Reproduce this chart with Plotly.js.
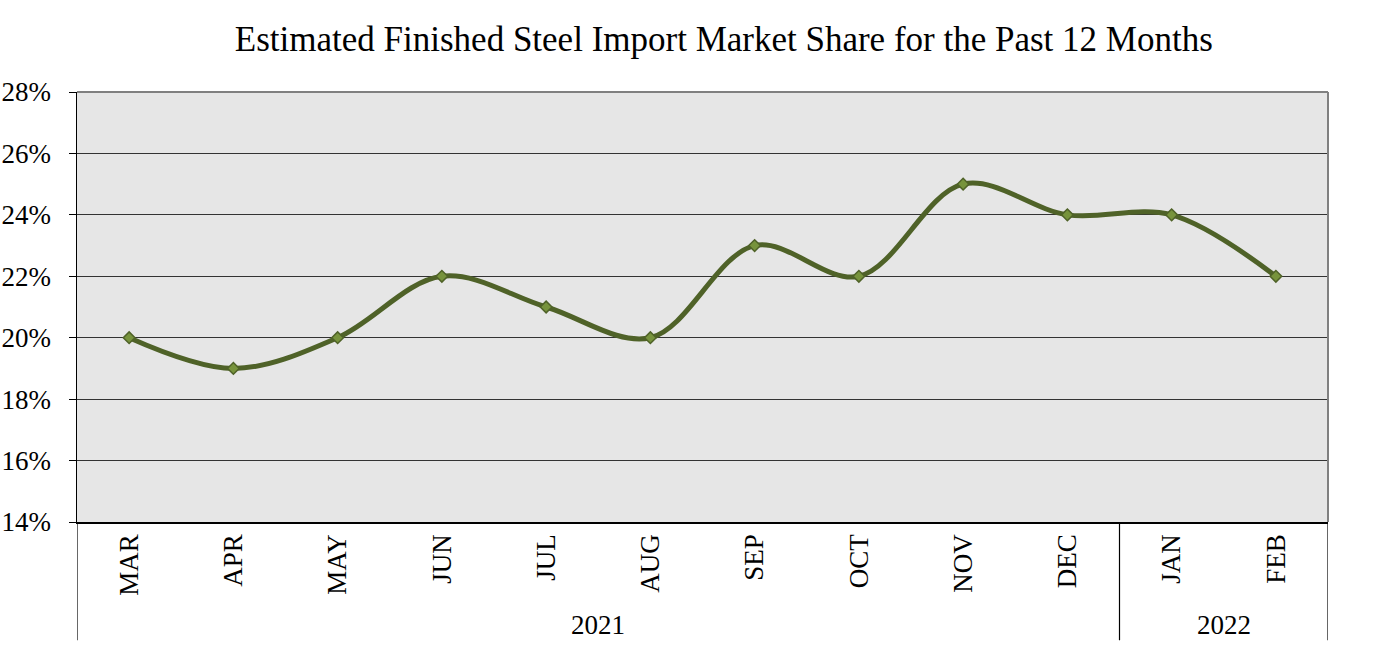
<!DOCTYPE html>
<html>
<head>
<meta charset="utf-8">
<script src="https://cdn.plot.ly/plotly-3.0.1.min.js"></script>
<style>
  html, body { margin: 0; padding: 0; background: #fff; }
  #chart { width: 1384px; height: 649px; }
</style>
</head>
<body>
<div id="chart"></div>
<script>
let months = ['MAR', 'APR', 'MAY', 'JUN', 'JUL', 'AUG', 'SEP', 'OCT', 'NOV', 'DEC', 'JAN', 'FEB'];
let shares = [20, 19, 20, 22, 21, 20, 23, 22, 25, 24, 24, 22];
let years = ['2021', '2022'];
let yearStart = [0, 10];   // index of first month in each year
let yearEnd = [9, 11];     // index of last month in each year

let serif = 'Liberation Serif, Times New Roman, serif';

let trace = {
  x: months,
  y: shares,
  type: 'scatter',
  mode: 'lines+markers',
  line: { color: '#4f6228', width: 5, shape: 'spline', smoothing: 1 },
  marker: { symbol: 'diamond', size: 9, color: '#77933c', line: { color: '#4f6228', width: 1.5 } },
  hoverinfo: 'x+y'
};

// year labels and the separator lines under the month labels
let annotations = years.map((yr, i) => ({
  x: (yearStart[i] + yearEnd[i]) / 2,
  y: -0.24,
  xref: 'x',
  yref: 'paper',
  yanchor: 'middle',
  text: yr,
  showarrow: false,
  font: { family: serif, size: 27, color: '#000' }
}));

let dividers = [yearStart[0] - 0.5].concat(yearEnd.map(e => e + 0.5));
let shapes = dividers.map(d => ({
  type: 'line',
  xref: 'x',
  yref: 'paper',
  x0: d, x1: d,
  y0: 0, y1: -0.275,
  line: { color: '#000', width: 1.2 }
}));

// gray frame on top and right of the plot area
shapes.push({ type: 'line', xref: 'paper', yref: 'paper', x0: 0, x1: 1, y0: 1, y1: 1,
  line: { color: '#808080', width: 2 } });
shapes.push({ type: 'line', xref: 'paper', yref: 'paper', x0: 1, x1: 1, y0: 0, y1: 1,
  line: { color: '#808080', width: 2 } });

let layout = {
  width: 1384,
  height: 649,
  margin: { l: 77, r: 56, t: 92, b: 127 },
  paper_bgcolor: '#ffffff',
  plot_bgcolor: '#e6e6e6',
  showlegend: false,
  title: {
    text: 'Estimated Finished Steel Import Market Share for the Past 12 Months',
    font: { family: serif, size: 35, color: '#000' },
    x: 0.523,
    xanchor: 'center',
    y: 0.94,
    yanchor: 'middle'
  },
  xaxis: {
    type: 'category',
    range: [-0.5, 11.5],
    tickangle: -90,
    showgrid: false,
    showline: true,
    linecolor: '#000',
    linewidth: 1.5,
    ticks: '',
    tickfont: { family: serif, size: 27, color: '#000' },
    fixedrange: true
  },
  yaxis: {
    range: [14, 28],
    dtick: 2,
    ticksuffix: '%',
    showgrid: true,
    gridcolor: '#333333',
    gridwidth: 1,
    zeroline: false,
    showline: true,
    linecolor: '#000',
    linewidth: 1.5,
    ticks: 'outside',
    ticklen: 7,
    tickcolor: '#000',
    ticklabelstandoff: 12,
    tickfont: { family: serif, size: 27, color: '#000' },
    fixedrange: true
  },
  annotations: annotations,
  shapes: shapes
};

Plotly.newPlot('chart', [trace], layout, { displayModeBar: false, staticPlot: true });
</script>
</body>
</html>
